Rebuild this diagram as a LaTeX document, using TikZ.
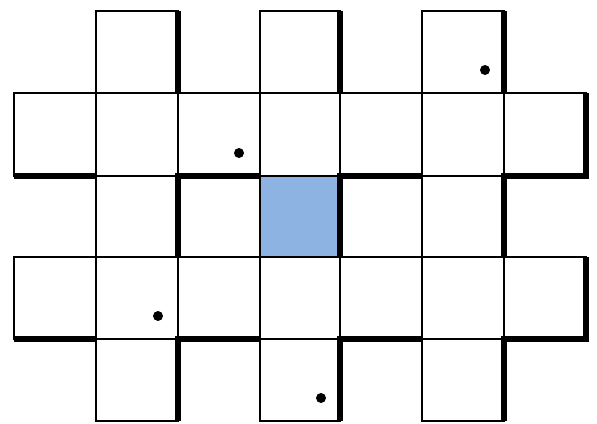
\documentclass[tikz,border=0pt]{standalone}
\usetikzlibrary{calc}
\definecolor{cellblue}{RGB}{141,179,226}
\begin{document}
\begin{tikzpicture}[x=1pt,y=-1pt,
  cell/.style={draw=black,line width=1.3pt,fill=white},
  bluecell/.style={draw=black,line width=1.3pt,fill=cellblue},
  wall/.style={draw=black,line width=5.4pt,line cap=butt,line join=miter},
  pebble/.style={fill=black,draw=none}]
\useasboundingbox (0,0) rectangle (597,423);
\def\xa{14}\def\xb{96}\def\xc{178}\def\xd{260}\def\xe{340}\def\xf{422}\def\xg{504}\def\xh{586}
\def\ya{11}\def\yb{93}\def\yc{176}\def\yd{257}\def\ye{339}\def\yf{421}
% row 0
\draw[cell] (\xb,\ya) rectangle (\xc,\yb);
\draw[cell] (\xd,\ya) rectangle (\xe,\yb);
\draw[cell] (\xf,\ya) rectangle (\xg,\yb);
% row 1
\foreach \l/\r in {\xa/\xb,\xb/\xc,\xc/\xd,\xd/\xe,\xe/\xf,\xf/\xg,\xg/\xh}
  \draw[cell] (\l,\yb) rectangle (\r,\yc);
% row 2
\foreach \l/\r in {\xb/\xc,\xc/\xd,\xe/\xf,\xf/\xg}
  \draw[cell] (\l,\yc) rectangle (\r,\yd);
\draw[bluecell] (\xd,\yc) rectangle (\xe,\yd);
% row 3
\foreach \l/\r in {\xa/\xb,\xb/\xc,\xc/\xd,\xd/\xe,\xe/\xf,\xf/\xg,\xg/\xh}
  \draw[cell] (\l,\yd) rectangle (\r,\ye);
% row 4
\draw[cell] (\xb,\ye) rectangle (\xc,\yf);
\draw[cell] (\xd,\ye) rectangle (\xe,\yf);
\draw[cell] (\xf,\ye) rectangle (\xg,\yf);
% thick walls: top row verticals
\foreach \x in {\xc,\xe,\xg}
  \draw[wall] (\x,\ya) -- (\x,\yb);
% thick walls around middle and bottom bands
\foreach \yt/\yu/\yv in {\yc/\yd/\yb,\ye/\yf/\yd}{
  \draw[wall] (\xa,\yt) -- (\xb,\yt);
  \draw[wall] (\xd,\yt) -- (\xc,\yt) -- (\xc,\yu);
  \draw[wall] (\xf,\yt) -- (\xe,\yt) -- (\xe,\yu);
  \draw[wall] (\xh,\yv) -- (\xh,\yt) -- (\xg,\yt) -- (\xg,\yu);
}
% dots
\fill[pebble] (485,70) circle (5);
\fill[pebble] (239,153) circle (5);
\fill[pebble] (158,316) circle (5);
\fill[pebble] (321,398) circle (5);
\end{tikzpicture}
\end{document}
